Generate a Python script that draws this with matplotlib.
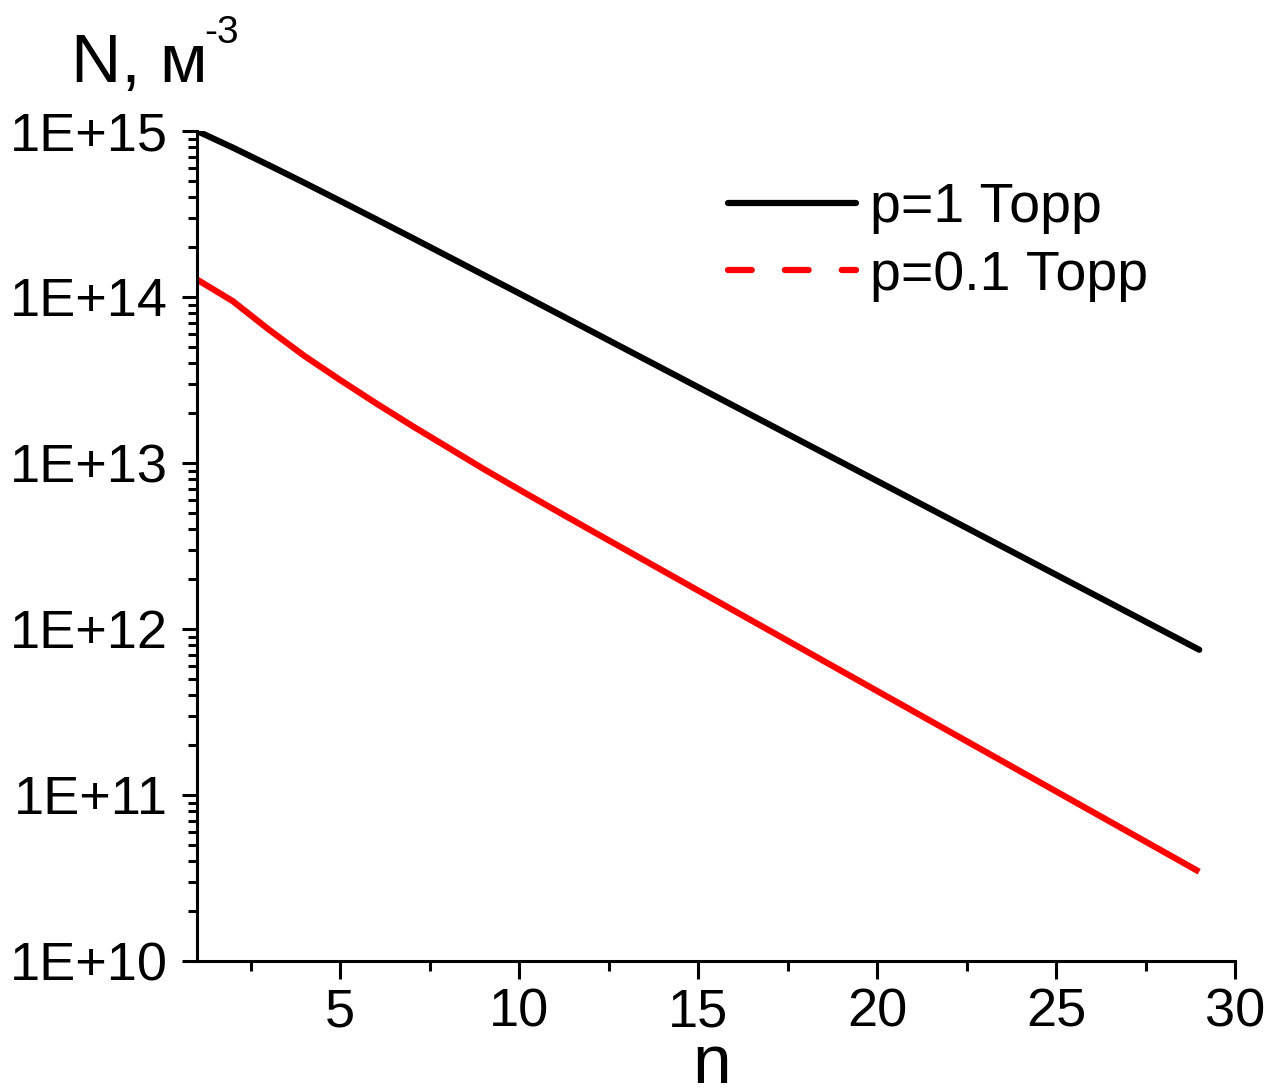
# -*- coding: utf-8 -*-
# Концентрация N по номеру n для двух давлений (логарифмическая шкала)

import numpy as np
import matplotlib
matplotlib.use('Agg')
import matplotlib.pyplot as plt
from matplotlib.lines import Line2D
from matplotlib.ticker import MultipleLocator, LogLocator, FuncFormatter, NullFormatter

plt.rcParams['font.family'] = ['Liberation Sans', 'DejaVu Sans']

# ---------------------------------------------------------------------------
# Данные
# ---------------------------------------------------------------------------
n = list(range(1, 30))

N_p1 = [1.000e15, 7.943e14, 6.237e14, 4.875e14, 3.793e14, 2.944e14, 2.280e14,
        1.762e14, 1.361e14, 1.052e14, 8.110e13, 6.252e13, 4.819e13, 3.715e13,
        2.864e13, 2.208e13, 1.702e13, 1.312e13, 1.012e13, 7.798e12, 6.012e12,
        4.634e12, 3.573e12, 2.754e12, 2.123e12, 1.637e12, 1.262e12, 9.727e11,
        7.499e11]

N_p01 = [1.274e14, 9.441e13, 6.383e13, 4.416e13, 3.162e13, 2.291e13, 1.679e13,
         1.245e13, 9.226e12, 6.918e12, 5.212e12, 3.936e12, 2.979e12, 2.254e12,
         1.706e12, 1.291e12, 9.772e11, 7.396e11, 5.598e11, 4.236e11, 3.206e11,
         2.427e11, 1.837e11, 1.390e11, 1.052e11, 7.962e10, 6.026e10, 4.560e10,
         3.451e10]

labels = ['p=1 Торр', 'p=0.1 Торр']

# ---------------------------------------------------------------------------
# График
# ---------------------------------------------------------------------------
W, H = 1269, 1088
fig = plt.figure(figsize=(W / 100, H / 100), dpi=100)
ax = fig.add_axes([197 / W, 1 - 961 / H, (1235 - 197) / W, (961 - 131) / H])

lw = 4.5
ax.plot(n, N_p1, color='black', linewidth=lw, solid_capstyle='round',
        solid_joinstyle='round')
ax.plot(n, N_p01, color='red', linewidth=lw, solid_capstyle='butt',
        solid_joinstyle='round')

ax.set_yscale('log')
ax.set_xlim(1, 30)
ax.set_ylim(1e10, 1e15)

for s in ['top', 'right']:
    ax.spines[s].set_visible(False)
for s in ['left', 'bottom']:
    ax.spines[s].set_linewidth(2.2)

ax.xaxis.set_major_locator(MultipleLocator(5))
ax.xaxis.set_minor_locator(MultipleLocator(2.5))
ax.yaxis.set_major_locator(LogLocator(base=10, numticks=10))
ax.yaxis.set_minor_locator(LogLocator(base=10, subs=np.arange(2, 10), numticks=10))
ax.yaxis.set_minor_formatter(NullFormatter())
ax.yaxis.set_major_formatter(FuncFormatter(lambda v, pos: '1E+%d' % int(round(np.log10(v)))))

ax.tick_params(axis='x', which='major', direction='out', length=13, width=2.2,
               labelsize=39, pad=6)
ax.tick_params(axis='x', which='minor', direction='out', length=7, width=2.2)
ax.tick_params(axis='y', which='major', direction='out', length=11, width=2.2,
               labelsize=39, pad=10)
ax.tick_params(axis='y', which='minor', direction='out', length=6.5, width=2.2)

# подписи осей
fig.text(71 / W, 1 - 82 / H, 'N, м', fontsize=50, ha='left', va='baseline')
fig.text(204 / W, 1 - 43 / H, '-3', fontsize=28, ha='left', va='baseline')
fig.text(712 / W, 1 - 1083 / H, 'n', fontsize=50, ha='center', va='baseline')

# легенда: для второй кривой — штриховой маркер
handles = [
    Line2D([], [], color='black', linewidth=lw, solid_capstyle='round'),
    Line2D([], [], color='red', linewidth=lw, dashes=(3.8, 5.3), dash_capstyle='round'),
]
ax.legend(handles, labels, loc='upper left', bbox_to_anchor=(728 / W, 1 - 182 / H),
          bbox_transform=fig.transFigure, frameon=False, fontsize=40,
          handlelength=2.3, handletextpad=0.25, labelspacing=0.28,
          borderpad=0, borderaxespad=0)

fig.savefig('out.png', dpi=100)
